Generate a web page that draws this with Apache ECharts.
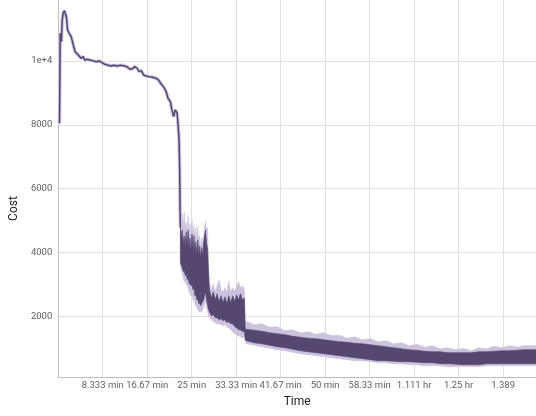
<!DOCTYPE html>
<html>
<head>
<meta charset="utf-8">
<script src="https://cdn.jsdelivr.net/npm/echarts@6/dist/echarts.min.js"></script>
<style>
html,body{margin:0;padding:0;background:#fff;}
#chart{width:536px;height:416px;}
</style>
</head>
<body>
<div id="chart"></div>
<script>
// Early thin line (seconds, cost)
const lineT = [14,22,29,36,44,54,69,80,91,105,123,145,160,174,189,207,225,243,254,280,298,327,352,389,425,461,479,515,552,588,624,661,697,733,770,806,835,861,886,908,933,959,988,1024,1060,1097,1126,1151,1187,1213,1234,1260,1278,1296,1315,1325,1336,1347,1358,1362,1365,1369,1373];
const lineV = [8050,10867,10814,10604,11284,11493,11575,11543,11387,10971,10867,10761,10711,10448,10291,10241,10188,10157,10085,10135,10032,10054,10032,10010,9978,10000,9978,9906,9875,9844,9866,9844,9866,9853,9822,9741,9759,9822,9772,9665,9697,9562,9531,9509,9490,9459,9406,9302,9177,9039,8833,8726,8467,8257,8467,8520,8363,7997,7528,7005,6485,5440,4773];

// Noisy part: envelopes of smoothed (dark) and raw (light) values
const bandT = [1373,1383,1394,1405,1416,1427,1438,1449,1460,1471,1481,1492,1503,1514,1525,1536,1547,1558,1569,1580,1590,1601,1612,1623,1634,1645,1656,1667,1678,1688,1699,1721,1743,1765,1786,1808,1830,1852,1874,1895,1917,1939,1961,1983,2004,2026,2048,2070,2092,2102,2113,2200,2288,2375,2462,2549,2636,2723,2810,2898,2985,3072,3159,3246,3333,3420,3508,3595,3682,3769,3856,3943,4031,4118,4205,4292,4379,4466,4553,4641,4728,4815,4902,4989,5076,5163,5229,5370];
const darkHigh = [4773,4523,4711,4272,4523,4210,4648,4272,4711,4147,4460,4085,4585,4147,4523,4022,4335,3959,4398,3897,4210,3834,4147,3897,4335,4523,4711,4272,4147,3459,2833,2582,2770,2520,2707,2457,2645,2426,2614,2394,2645,2426,2645,2457,2676,2520,2707,2520,2582,1612,1596,1565,1534,1487,1455,1424,1377,1346,1315,1299,1268,1236,1205,1189,1158,1142,1111,1080,1049,1017,986,955,939,908,892,892,861,861,861,861,892,892,908,923,923,939,955,955];
const darkLow = [3709,3584,3521,3396,3459,3271,3333,3146,3208,3020,3020,2958,2989,2833,2895,2645,2676,2520,2520,2394,2426,2332,2394,2457,2520,2645,2770,2520,2363,2207,2144,2019,2050,1956,1956,1894,1925,1862,1894,1800,1831,1768,1768,1675,1643,1581,1581,1518,1549,1268,1236,1174,1142,1096,1049,1017,970,923,892,861,829,798,767,736,704,673,642,611,611,595,579,579,563,548,548,517,517,501,485,485,485,517,517,517,517,517,517,517];
const lightHigh = [4961,5180,5243,4836,5274,4711,4961,4648,5149,4523,4898,4523,5023,4585,4836,4460,4773,4398,4836,4272,4523,4147,4460,4210,4585,4836,4961,4711,4773,3709,3052,2833,3020,2770,2958,3146,2833,2770,2895,2770,3083,2770,2895,2770,2958,3083,2895,2958,2833,1831,1847,1737,1768,1659,1675,1549,1581,1487,1518,1440,1487,1393,1409,1315,1362,1268,1299,1205,1236,1142,1174,1080,1127,1033,1080,986,1017,955,1002,923,1017,986,1064,1017,1080,1033,1080,1080];
const lightLow = [3584,3459,3333,3208,3083,3083,3020,2958,2895,2770,2707,2645,2645,2520,2520,2394,2332,2269,2207,2144,2144,2144,2144,2207,2269,2394,2457,2269,2144,2019,1956,1894,1831,1800,1768,1768,1737,1706,1737,1675,1643,1581,1518,1455,1424,1393,1362,1330,1362,1174,1142,1096,1049,1002,955,923,876,829,798,767,736,704,673,642,611,611,579,548,548,517,517,485,485,454,454,454,423,423,423,423,423,454,454,454,454,454,454,454];

// Tick labels
const xTickLabels = ['0','8.333 min','16.67 min','25 min','33.33 min','41.67 min','50 min','58.33 min','1.111 hr','1.25 hr','1.389'];
const yTickValues = [2000,4000,6000,8000,10000];
const yTickLabels = ['2000','4000','6000','8000','1e+4'];

const DARK = '#55476f';
const LIGHT = '#cdc2dd';

function bandRender(color){
  return function(params, api){
    if (params.dataIndexInside !== 0) return null;
    const n = params.dataInsideLength;
    const pts = [];
    for (let i = 0; i < n; i++) pts.push(api.coord([api.value(0, i), api.value(1, i)]));
    for (let i = n - 1; i >= 0; i--) pts.push(api.coord([api.value(0, i), api.value(2, i)]));
    return {type:'polygon', shape:{points:pts}, style:{fill:color, stroke:color, lineWidth:0.6}};
  };
}

const lineData = lineT.map((t,i)=>[t,lineV[i]]);
const darkData = bandT.map((t,i)=>[t,darkHigh[i],darkLow[i]]);
const lightData = bandT.map((t,i)=>[t,lightHigh[i],lightLow[i]]);

const chart = echarts.init(document.getElementById('chart'));
chart.setOption({
  animation:false,
  textStyle:{fontFamily:'Roboto'},
  grid:{left:56, right:-13, top:0, bottom:39, containLabel:false},
  xAxis:{
    type:'value', min:0, max:5370, interval:500,
    name:'Time', nameLocation:'middle', nameGap:19,
    nameTextStyle:{fontSize:12, color:'#212121', fontFamily:'Roboto'},
    axisLine:{show:true, lineStyle:{color:'#bdbdbd', width:1}},
    axisTick:{show:false},
    axisLabel:{fontSize:9.5, color:'#616161', margin:4, showMinLabel:false, showMaxLabel:false,
      formatter:function(v){ const k = Math.round(v/500); return (Math.abs(v-k*500)<1e-6 && xTickLabels[k]!==undefined) ? xTickLabels[k] : ''; }},
    splitLine:{show:true, lineStyle:{color:'#e0e0e0', width:1}}
  },
  yAxis:{
    type:'value', min:100, max:11910,
    name:'Cost', nameLocation:'middle', nameGap:35,
    nameTextStyle:{fontSize:12, color:'#212121', fontFamily:'Roboto', padding:[0,40,0,0]},
    axisLine:{show:true, lineStyle:{color:'#bdbdbd', width:1}},
    axisTick:{show:false},
    axisLabel:{fontSize:9.5, color:'#616161', margin:6, showMinLabel:false, showMaxLabel:false,
      formatter:function(v){ const i = yTickValues.indexOf(v); return i>=0 ? yTickLabels[i] : ''; }},
    splitLine:{show:true, showMinLine:false, showMaxLine:false, lineStyle:{color:'#e0e0e0', width:1}}
  },
  series:[
    {type:'custom', name:'raw', data:lightData, encode:{x:0, y:[1,2]}, renderItem:bandRender(LIGHT), silent:true, z:1},
    {type:'custom', name:'smoothed', data:darkData, encode:{x:0, y:[1,2]}, renderItem:bandRender(DARK), silent:true, z:2},
    {type:'line', name:'rawLine', data:lineData, showSymbol:false, symbol:'none', lineStyle:{color:LIGHT, width:3.5}, silent:true, z:3},
    {type:'line', name:'smoothLine', data:lineData, showSymbol:false, symbol:'none', lineStyle:{color:DARK, width:1.5}, silent:true, z:4}
  ]
});
</script>
</body>
</html>
